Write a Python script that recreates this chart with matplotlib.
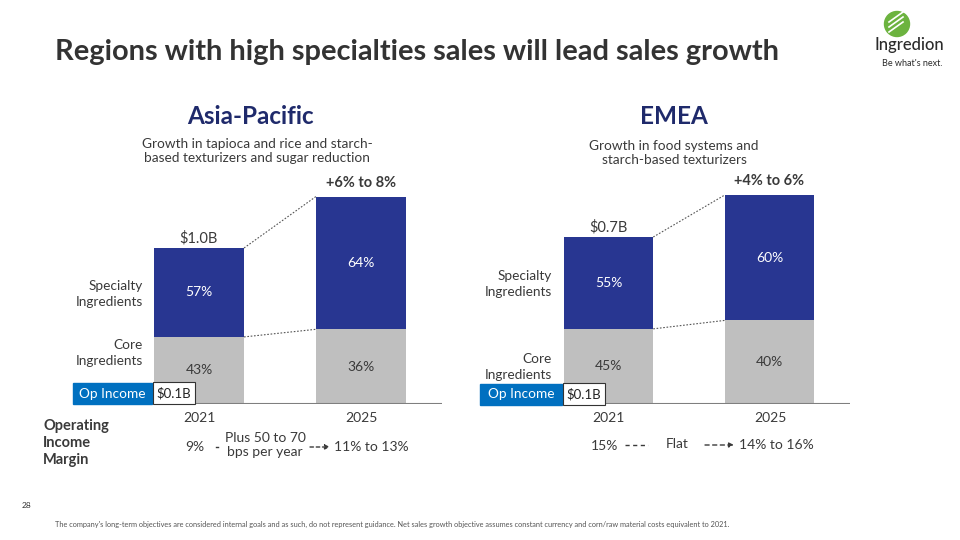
import matplotlib.pyplot as plt
from matplotlib.patches import Rectangle, Circle

plt.rcParams['font.family'] = ['Lato', 'DejaVu Sans']

# data
years = ['2021', '2025']
ap_totals = [1.0, 1.33]          # $B, 2025 bar
ap_specialty = [0.57, 0.64]
emea_totals = [0.7, 0.876]
emea_specialty = [0.55, 0.60]
ap_growth = '+6% to 8%'
emea_growth = '+4% to 6%'
ap_size = '$1.0B'
emea_size = '$0.7B'
op_income = ['$0.1B', '$0.1B']

NAVY = '#283691'
GRAY = '#BFBFBF'
TXT = '#3a3a3a'
BLUE = '#0070C0'

W, H = 960, 540
fig = plt.figure(figsize=(9.6, 5.4), dpi=100)


def panel(left, right, totals, spec, top_px, size_lbl, growth_lbl):
    ax = fig.add_axes([left / W, 1 - 404 / H, (right - left) / W, 234 / H])
    x = [0, 1]
    core = [t * (1 - s) for t, s in zip(totals, spec)]
    specv = [t * s for t, s in zip(totals, spec)]
    bw = 0.556
    ax.bar(x, core, width=bw, color=GRAY, zorder=2)
    ax.bar(x, specv, bottom=core, width=bw, color=NAVY, zorder=2)
    ax.set_xlim(-0.5, 1.5)
    ax.set_ylim(0, totals[0] * 234 / top_px)
    ax.axis('off')
    ax.axhline(0, color='#7f7f7f', lw=1.5, zorder=3)
    # dotted connectors
    ax.plot([bw / 2, 1 - bw / 2], [totals[0], totals[1]], ls=(0, (1.5, 1.5)), color='#555555', lw=0.8)
    ax.plot([bw / 2, 1 - bw / 2], [core[0], core[1]], ls=(0, (1.5, 1.5)), color='#555555', lw=0.8)
    for i in x:
        ax.text(i, core[i] / 2, f'{1 - spec[i]:.0%}', ha='center', va='center', color=TXT, fontsize=10)
        ax.text(i, core[i] + specv[i] / 2, f'{spec[i]:.0%}', ha='center', va='center', color='white', fontsize=10)
    ax.annotate(size_lbl, xy=(0, totals[0]), xytext=(0, 10), textcoords='offset pixels',
                ha='center', va='center', color=TXT, fontsize=10.5)
    ax.annotate(growth_lbl, xy=(1, totals[1]), xytext=(0, 14), textcoords='offset pixels',
                ha='center', va='center', color=TXT, fontsize=10.5, fontweight='bold')
    return ax


panel(118, 442, ap_totals, ap_specialty, 156, ap_size, ap_growth)
panel(528, 850, emea_totals, emea_specialty, 167, emea_size, emea_growth)

# overlay axes in pixel coords for slide text, drawn above the bars
ov = fig.add_axes([0, 0, 1, 1])
ov.set_xlim(0, W)
ov.set_ylim(H, 0)
ov.axis('off')
ov.set_zorder(5)

# title
ov.text(55, 52, 'Regions with high specialties sales will lead sales growth', fontsize=20.9,
        fontweight='bold', color='#333333', va='center')

# logo
ov.add_patch(Circle((897, 24), 12.5, color='#6CB33F'))
for dy in (-6, -1, 4):
    ov.plot([889, 903], [24 + dy + 4, 24 + dy - 6], color='white', lw=1.2)
ov.text(909, 45, 'Ingredion', fontsize=12, color='#2b2b2b', ha='center', va='center', fontweight='medium')
ov.text(912, 64, "Be what's next.", fontsize=6.5, color='#2b2b2b', ha='center', va='center')

# panel headers
ov.text(250, 116, 'Asia-Pacific', fontsize=17.5, fontweight='bold', color='#1F2A6B', ha='center', va='center')
ov.text(257, 151, 'Growth in tapioca and rice and starch-\nbased texturizers and sugar reduction',
        fontsize=9.8, color=TXT, ha='center', va='center', linespacing=1.3)
ov.text(674, 116, 'EMEA', fontsize=17.5, fontweight='bold', color='#1F2A6B', ha='center', va='center')
ov.text(674, 153, 'Growth in food systems and\nstarch-based texturizers',
        fontsize=9.8, color=TXT, ha='center', va='center', linespacing=1.3)

# segment labels
for xr, ys, yc in [(143, 294, 353), (552, 284, 367)]:
    ov.text(xr, ys, 'Specialty\nIngredients', ha='right', va='center', fontsize=9.8, color=TXT, linespacing=1.35)
    ov.text(xr, yc, 'Core\nIngredients', ha='right', va='center', fontsize=9.8, color=TXT, linespacing=1.35)

# op income boxes
for k, (x0, x1, x2, y0, y1) in enumerate([(73, 152, 195, 383, 404), (480, 562, 605, 384, 405)]):
    ov.add_patch(Rectangle((x0, y0), x1 - x0, y1 - y0, color=BLUE, zorder=4))
    ov.text((x0 + x1) / 2, (y0 + y1) / 2, 'Op Income', color='white', fontsize=9.8, ha='center', va='center', zorder=5)
    ov.add_patch(Rectangle((x1 + 1, y0 - 1), x2 - x1 - 1, y1 - y0 + 1, facecolor='white',
                           edgecolor='#333333', lw=0.8, zorder=4))
    ov.text((x1 + x2) / 2 + 0.5, (y0 + y1) / 2, op_income[k], color='#222222', fontsize=9.5,
            ha='center', va='center', zorder=5)

# year labels
for xc, yr in zip((199, 361, 608, 770), years * 2):
    ov.text(xc, 418, yr, ha='center', va='center', fontsize=10, color=TXT)

# operating income margin row
ov.text(43, 443, 'Operating\nIncome\nMargin', fontsize=10.5, fontweight='bold', color=TXT, va='center',
        ha='left', linespacing=1.3)
ov.text(195, 447, '9%', fontsize=10, color=TXT, ha='center', va='center')
ov.plot([216, 218], [447, 447], color=TXT, lw=1)
ov.text(265, 445, 'Plus 50 to 70\nbps per year', fontsize=10, color=TXT, ha='center', va='center', linespacing=1.25)
ov.annotate('', xy=(330, 447), xytext=(310, 447),
            arrowprops=dict(arrowstyle='-|>', ls=(0, (2.5, 2)), lw=1, color=TXT, mutation_scale=7,
                            shrinkA=0, shrinkB=0))
ov.text(334, 447, '11% to 13%', fontsize=10, color=TXT, ha='left', va='center')

ov.text(605, 446, '15%', fontsize=10, color=TXT, ha='center', va='center')
ov.plot([625, 648], [445, 445], ls=(0, (3, 2.5)), color=TXT, lw=1)
ov.text(677, 444, 'Flat', fontsize=10, color=TXT, ha='center', va='center')
ov.annotate('', xy=(734, 445), xytext=(705, 445),
            arrowprops=dict(arrowstyle='-|>', ls=(0, (3, 2.5)), lw=1, color=TXT, mutation_scale=7,
                            shrinkA=0, shrinkB=0))
ov.text(739, 445, '14% to 16%', fontsize=10, color=TXT, ha='left', va='center')

# footer
ov.text(22, 506, '28', fontsize=6, color='#333333', va='center')
ov.text(55, 524, "The company's long-term objectives are considered internal goals and as such, do not represent "
        "guidance. Net sales growth objective assumes constant currency and corn/raw material costs equivalent to 2021.",
        fontsize=5.3, color='#555555', va='center')

fig.savefig('out.png', dpi=100)
